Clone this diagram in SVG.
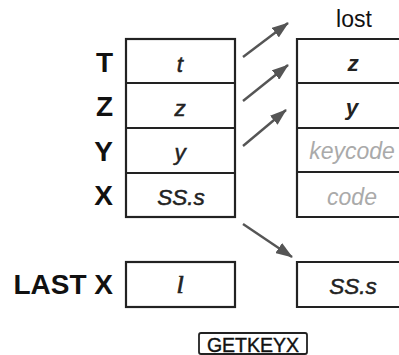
<svg xmlns="http://www.w3.org/2000/svg" width="399" height="355" viewBox="0 0 399 355">
<defs>
<marker id="ah" markerWidth="17" markerHeight="12" refX="16" refY="6" orient="auto" markerUnits="userSpaceOnUse">
<path d="M0,0 L17,6 L0,12 Z" fill="#555"/>
</marker>
<style>
.box{fill:#fff;stroke:#222;stroke-width:2.2}
.ln{stroke:#222;stroke-width:2.2}
.reg{font-family:"Liberation Sans",Arial,sans-serif;font-weight:bold;font-size:28px;fill:#111;text-anchor:end}
.val{font-family:"Liberation Sans",Arial,sans-serif;font-style:italic;font-size:22.5px;fill:#222;stroke:#222;stroke-width:0.5;text-anchor:middle}
.valb{font-family:"Liberation Sans",Arial,sans-serif;font-style:italic;font-weight:bold;font-size:22.5px;fill:#222;text-anchor:middle}
.gray{font-family:"Liberation Sans",Arial,sans-serif;font-style:italic;font-size:23px;fill:#aaa;text-anchor:middle}
.arr{stroke:#555;stroke-width:2.4;fill:none;marker-end:url(#ah)}
</style>
</defs>
<rect width="399" height="355" fill="#fff"/>
<g id="labels">
<text class="reg" x="113" y="72">T</text>
<text class="reg" x="113" y="116">Z</text>
<text class="reg" x="113" y="161">Y</text>
<text class="reg" x="113" y="205">X</text>
<text class="reg" x="113" y="294">LAST X</text>
</g>
<g id="stack-before">
<rect class="box" x="126" y="39" width="109" height="178"/>
<line class="ln" x1="126" y1="83" x2="235" y2="83"/>
<line class="ln" x1="126" y1="128" x2="235" y2="128"/>
<line class="ln" x1="126" y1="173" x2="235" y2="173"/>
<text class="val" x="180" y="72">t</text>
<text class="val" x="180" y="116">z</text>
<text class="val" x="180" y="160">y</text>
<text class="val" x="181" y="205">SS.s</text>
</g>
<g id="lastx-before">
<rect class="box" x="126" y="262" width="109" height="45"/>
<text x="180" y="293" font-family="Liberation Serif,Times New Roman,serif" font-style="italic" font-size="26" fill="#222" stroke="#222" stroke-width="0.7" text-anchor="middle">l</text>
</g>
<g id="lost">
<text x="354" y="27" font-family="Liberation Sans,Arial,sans-serif" font-size="23" fill="#111" text-anchor="middle">lost</text>
</g>
<g id="stack-after">
<path d="M401,39 H297 V217 H401" fill="#fff" stroke="#222" stroke-width="2.2"/>
<line class="ln" x1="297" y1="83" x2="401" y2="83"/>
<line class="ln" x1="297" y1="128" x2="401" y2="128"/>
<line class="ln" x1="297" y1="172" x2="401" y2="172"/>
<text class="valb" x="353" y="71">z</text>
<text class="valb" x="352" y="115">y</text>
<text class="gray" x="352" y="159">keycode</text>
<text class="gray" x="352" y="205">code</text>
</g>
<g id="lastx-after">
<path d="M401,262 H297 V307 H401" fill="#fff" stroke="#222" stroke-width="2.2"/>
<text class="val" x="353" y="294">SS.s</text>
</g>
<g id="connectors">
<line class="arr" x1="243" y1="57" x2="288" y2="23"/>
<line class="arr" x1="243" y1="101" x2="288" y2="65"/>
<line class="arr" x1="243" y1="146" x2="286" y2="110"/>
<line class="arr" x1="243" y1="224" x2="292" y2="257"/>
</g>
<g id="getkeyx">
<rect x="199" y="333" width="108" height="21" rx="2" fill="#fff" stroke="#222" stroke-width="1.8"/>
<text x="253" y="352" font-family="Liberation Sans,Arial,sans-serif" font-size="19.5" fill="#111" text-anchor="middle" stroke="#111" stroke-width="0.4">GETKEYX</text>
</g>
</svg>
